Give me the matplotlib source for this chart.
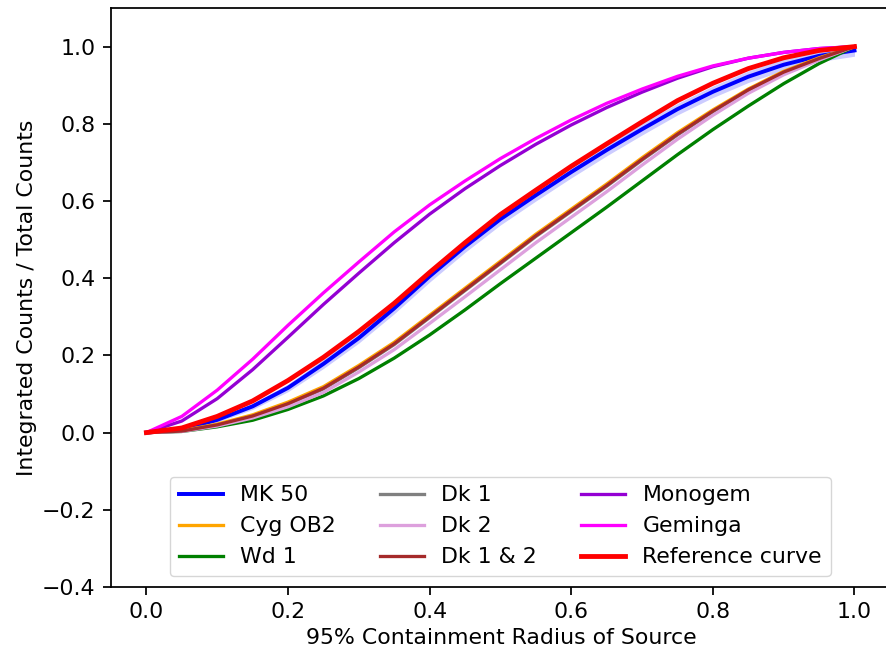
import matplotlib
matplotlib.use("Agg")
import matplotlib.pyplot as plt
import numpy as np

S = 1.58
plt.rcParams['font.family'] = ['DejaVu Sans']
plt.rcParams['font.size'] = 10 * S
plt.rcParams['axes.linewidth'] = 0.8 * S
for a in ('xtick', 'ytick'):
    plt.rcParams[a + '.major.size'] = 3.5 * S
    plt.rcParams[a + '.major.width'] = 0.8 * S
    plt.rcParams[a + '.major.pad'] = 3.5 * S

radius = [0.0, 0.05, 0.1, 0.15, 0.2, 0.25, 0.3, 0.35, 0.4, 0.45, 0.5,
          0.55, 0.6, 0.65, 0.7, 0.75, 0.8, 0.85, 0.9, 0.95, 1.0]

mk50 = [0.0, 0.008, 0.033, 0.068, 0.116, 0.178, 0.245, 0.322, 0.405, 0.482, 0.553,
        0.615, 0.675, 0.732, 0.786, 0.838, 0.883, 0.922, 0.953, 0.976, 0.99]
mk50_err = [0.0, 0.003, 0.006, 0.008, 0.01, 0.012, 0.013, 0.014, 0.015, 0.015, 0.015,
            0.015, 0.015, 0.015, 0.015, 0.015, 0.015, 0.015, 0.015, 0.015, 0.015]
cygob2 = [0.0, 0.005, 0.022, 0.046, 0.079, 0.119, 0.174, 0.234, 0.304, 0.374, 0.444,
          0.514, 0.579, 0.644, 0.712, 0.777, 0.836, 0.89, 0.936, 0.971, 1.0]
wd1 = [0.0, 0.003, 0.015, 0.032, 0.06, 0.095, 0.14, 0.193, 0.253, 0.318, 0.386,
       0.452, 0.518, 0.584, 0.652, 0.72, 0.785, 0.846, 0.904, 0.956, 1.0]
dk1 = [0.0, 0.004, 0.019, 0.042, 0.073, 0.113, 0.168, 0.228, 0.298, 0.368, 0.438,
       0.508, 0.573, 0.638, 0.706, 0.771, 0.831, 0.886, 0.932, 0.968, 1.0]
dk2 = [0.0, 0.003, 0.017, 0.038, 0.067, 0.104, 0.157, 0.215, 0.283, 0.352, 0.422,
       0.492, 0.558, 0.624, 0.693, 0.76, 0.822, 0.879, 0.927, 0.965, 1.0]
dk12 = [0.0, 0.004, 0.02, 0.043, 0.075, 0.115, 0.17, 0.23, 0.3, 0.37, 0.44,
        0.51, 0.575, 0.64, 0.708, 0.773, 0.833, 0.888, 0.934, 0.969, 1.0]
monogem = [0.0, 0.03, 0.088, 0.163, 0.247, 0.332, 0.413, 0.492, 0.566, 0.632, 0.692,
           0.747, 0.797, 0.842, 0.882, 0.918, 0.948, 0.97, 0.985, 0.995, 1.0]
geminga = [0.0, 0.042, 0.11, 0.19, 0.278, 0.362, 0.442, 0.52, 0.59, 0.652, 0.71,
           0.762, 0.81, 0.853, 0.89, 0.923, 0.95, 0.97, 0.985, 0.995, 1.0]
reference = [0.0, 0.012, 0.042, 0.082, 0.135, 0.195, 0.262, 0.335, 0.415, 0.492, 0.565,
             0.628, 0.69, 0.748, 0.805, 0.86, 0.905, 0.943, 0.971, 0.99, 1.0]

labels = ['MK 50', 'Cyg OB2', 'Wd 1', 'Dk 1', 'Dk 2', 'Dk 1 & 2', 'Monogem', 'Geminga', 'Reference curve']
colors = ['blue', 'orange', 'green', 'gray', 'plum', 'brown', 'darkviolet', 'magenta', 'red']

fig = plt.figure(figsize=(8.87, 6.53), dpi=100)
ax = fig.add_axes([111 / 887, 1 - 587 / 653, 781 / 887, 579 / 653])

x = np.array(radius)
m = np.array(mk50)
e = np.array(mk50_err)
ax.fill_between(x, m - e, m + e, color='blue', alpha=0.2, lw=0)
ax.plot(x, mk50, color=colors[0], lw=1.8 * S, label=labels[0])
ax.plot(x, cygob2, color=colors[1], lw=1.5 * S, label=labels[1])
ax.plot(x, wd1, color=colors[2], lw=1.5 * S, label=labels[2])
ax.plot(x, dk1, color=colors[3], lw=1.5 * S, label=labels[3])
ax.plot(x, dk2, color=colors[4], lw=1.5 * S, label=labels[4])
ax.plot(x, dk12, color=colors[5], lw=1.5 * S, label=labels[5])
ax.plot(x, monogem, color=colors[6], lw=1.5 * S, label=labels[6])
ax.plot(x, geminga, color=colors[7], lw=1.5 * S, label=labels[7])
ax.plot(x, reference, color=colors[8], lw=2.2 * S, label=labels[8])

ax.set_xlim(-0.05, 1.053)
ax.set_ylim(-0.4, 1.1)
ax.set_xticks([0.0, 0.2, 0.4, 0.6, 0.8, 1.0])
ax.set_yticks([-0.4, -0.2, 0.0, 0.2, 0.4, 0.6, 0.8, 1.0])
ax.set_xlabel('95% Containment Radius of Source')
ax.set_ylabel('Integrated Counts / Total Counts')
ax.legend(loc='lower center', ncol=3, bbox_to_anchor=(0.4985, 0.0))

fig.savefig('out.png', dpi=100)
